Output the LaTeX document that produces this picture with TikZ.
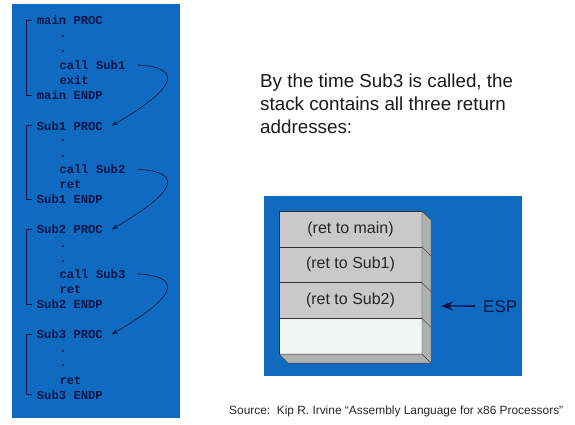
\documentclass[tikz,border=0pt]{standalone}
\usepackage{fontspec}
\setmainfont{Liberation Sans}
\setmonofont{Liberation Mono}
\usetikzlibrary{positioning,arrows.meta}
\definecolor{slideblue}{RGB}{16,106,192}
\definecolor{codeink}{RGB}{6,22,72}
\definecolor{cellgray}{RGB}{200,201,200}
\definecolor{cellside}{RGB}{174,178,174}
\definecolor{cellfree}{RGB}{240,247,240}
\tikzset{
  code/.style={anchor=base west, inner sep=0pt, text=codeink, font=\fontsize{12.2}{15}\selectfont\ttfamily\bfseries},
  callarrow/.style={codeink, semithick, -{Stealth[length=6pt,width=4.5pt]}},
  bracket/.style={codeink, line width=0.9pt, line cap=butt},
  cell/.style={draw=black!80, fill=cellgray, minimum width=143pt, minimum height=35.75pt, inner sep=0pt, outer sep=0pt, text=black!85, font=\fontsize{16}{19}\selectfont},
  caption/.style={anchor=base west, inner sep=0pt, text=black!90, font=\fontsize{18.8}{22}\selectfont},
}
\begin{document}
\begin{tikzpicture}[x=1pt, y=-1pt, line join=round]
\useasboundingbox (0,0) rectangle (575,425);
% code panel
\fill[slideblue] (12,4) rectangle (180,418);
% main
\node[code] (mainproc) at (36.7,25) {main PROC};
\node[code] (maindota) at (59.3,38) {.};
\node[code] (maindotb) at (59.3,53) {.};
\node[code] (call1) at (59.3,69.3) {call Sub1};
\node[code] (mainexit) at (59.3,84.3) {exit};
\node[code] (mainendp) at (36.7,100) {main ENDP};
% Sub1
\node[code] (sub1proc) at (36.7,130) {Sub1 PROC};
\node[code] (sub1dota) at (59.3,142) {.};
\node[code] (sub1dotb) at (59.3,157) {.};
\node[code] (call2) at (59.3,173.6) {call Sub2};
\node[code] (sub1ret) at (59.3,188.3) {ret};
\node[code] (sub1endp) at (36.7,203.6) {Sub1 ENDP};
% Sub2
\node[code] (sub2proc) at (36.7,233.6) {Sub2 PROC};
\node[code] (sub2dota) at (59.3,247) {.};
\node[code] (sub2dotb) at (59.3,262) {.};
\node[code] (call3) at (59.3,278.3) {call Sub3};
\node[code] (sub2ret) at (59.3,293.6) {ret};
\node[code] (sub2endp) at (36.7,308.6) {Sub2 ENDP};
% Sub3
\node[code] (sub3proc) at (36.7,338.6) {Sub3 PROC};
\node[code] (sub3dota) at (59.3,352.5) {.};
\node[code] (sub3dotb) at (59.3,366.5) {.};
\node[code] (sub3ret) at (59.3,384.3) {ret};
\node[code] (sub3endp) at (36.7,399) {Sub3 ENDP};
% brackets
\foreach \p/\e in {mainproc/mainendp, sub1proc/sub1endp, sub2proc/sub2endp, sub3proc/sub3endp}
  \draw[bracket] ([xshift=-5pt]\p.west) -| ([xshift=-10.5pt]\e.west) -- ([xshift=-5pt]\e.west);
% calls
\draw[callarrow] ([xshift=12pt]call1.east) .. controls +(50,3) and +(60,-35) .. ([xshift=9pt]sub1proc.east);
\draw[callarrow] ([xshift=12pt]call2.east) .. controls +(50,3) and +(60,-35) .. ([xshift=9pt]sub2proc.east);
\draw[callarrow] ([xshift=12pt]call3.east) .. controls +(50,3) and +(60,-35) .. ([xshift=9pt]sub3proc.east);
% text
\node[caption] (capa) at (260,88) {By the time Sub3 is called, the};
\node[caption] (capb) at (260,110.5) {stack contains all three return};
\node[caption] (capc) at (260,133) {addresses:};
% stack panel
\fill[slideblue] (264,196) rectangle (522,376);
\node[cell] (retmain) at (350.5,229) {(ret to main)};
\node[cell, below=0pt of retmain] (retsub1) {(ret to Sub1)};
\node[cell, below=0pt of retsub1] (retsub2) {(ret to Sub2)};
\node[cell, fill=cellfree, below=0pt of retsub2] (freecell) {};
\filldraw[fill=cellside, draw=black!80] (retmain.north east) -- ++(9,9) -- ([shift={(9,9)}]freecell.south east) -- (freecell.south east) -- cycle;
\filldraw[fill=cellside, draw=black!80] (freecell.south west) -- ++(9,9) -- ([shift={(9,9)}]freecell.south east) -- (freecell.south east) -- cycle;
\foreach \c in {retmain, retsub1, retsub2}
  \draw[black!80] (\c.south east) -- ++(9,9);
% ESP
\node[anchor=base west, inner sep=0pt, text=codeink, font=\fontsize{17}{20}\selectfont] (esp) at (483,312) {ESP};
\coordinate (esptip) at (441,306);
\draw[codeink, line width=1.3pt, -{Stealth[length=12pt,width=9pt]}] ([xshift=-8pt]esp.west) -- (esptip);
% source
\node[anchor=base west, inner sep=0pt, text=black!85, font=\fontsize{11.9}{14}\selectfont] (source) at (229,414) {Source:\ \ Kip R. Irvine ``Assembly Language for x86 Processors''};
\end{tikzpicture}
\end{document}
